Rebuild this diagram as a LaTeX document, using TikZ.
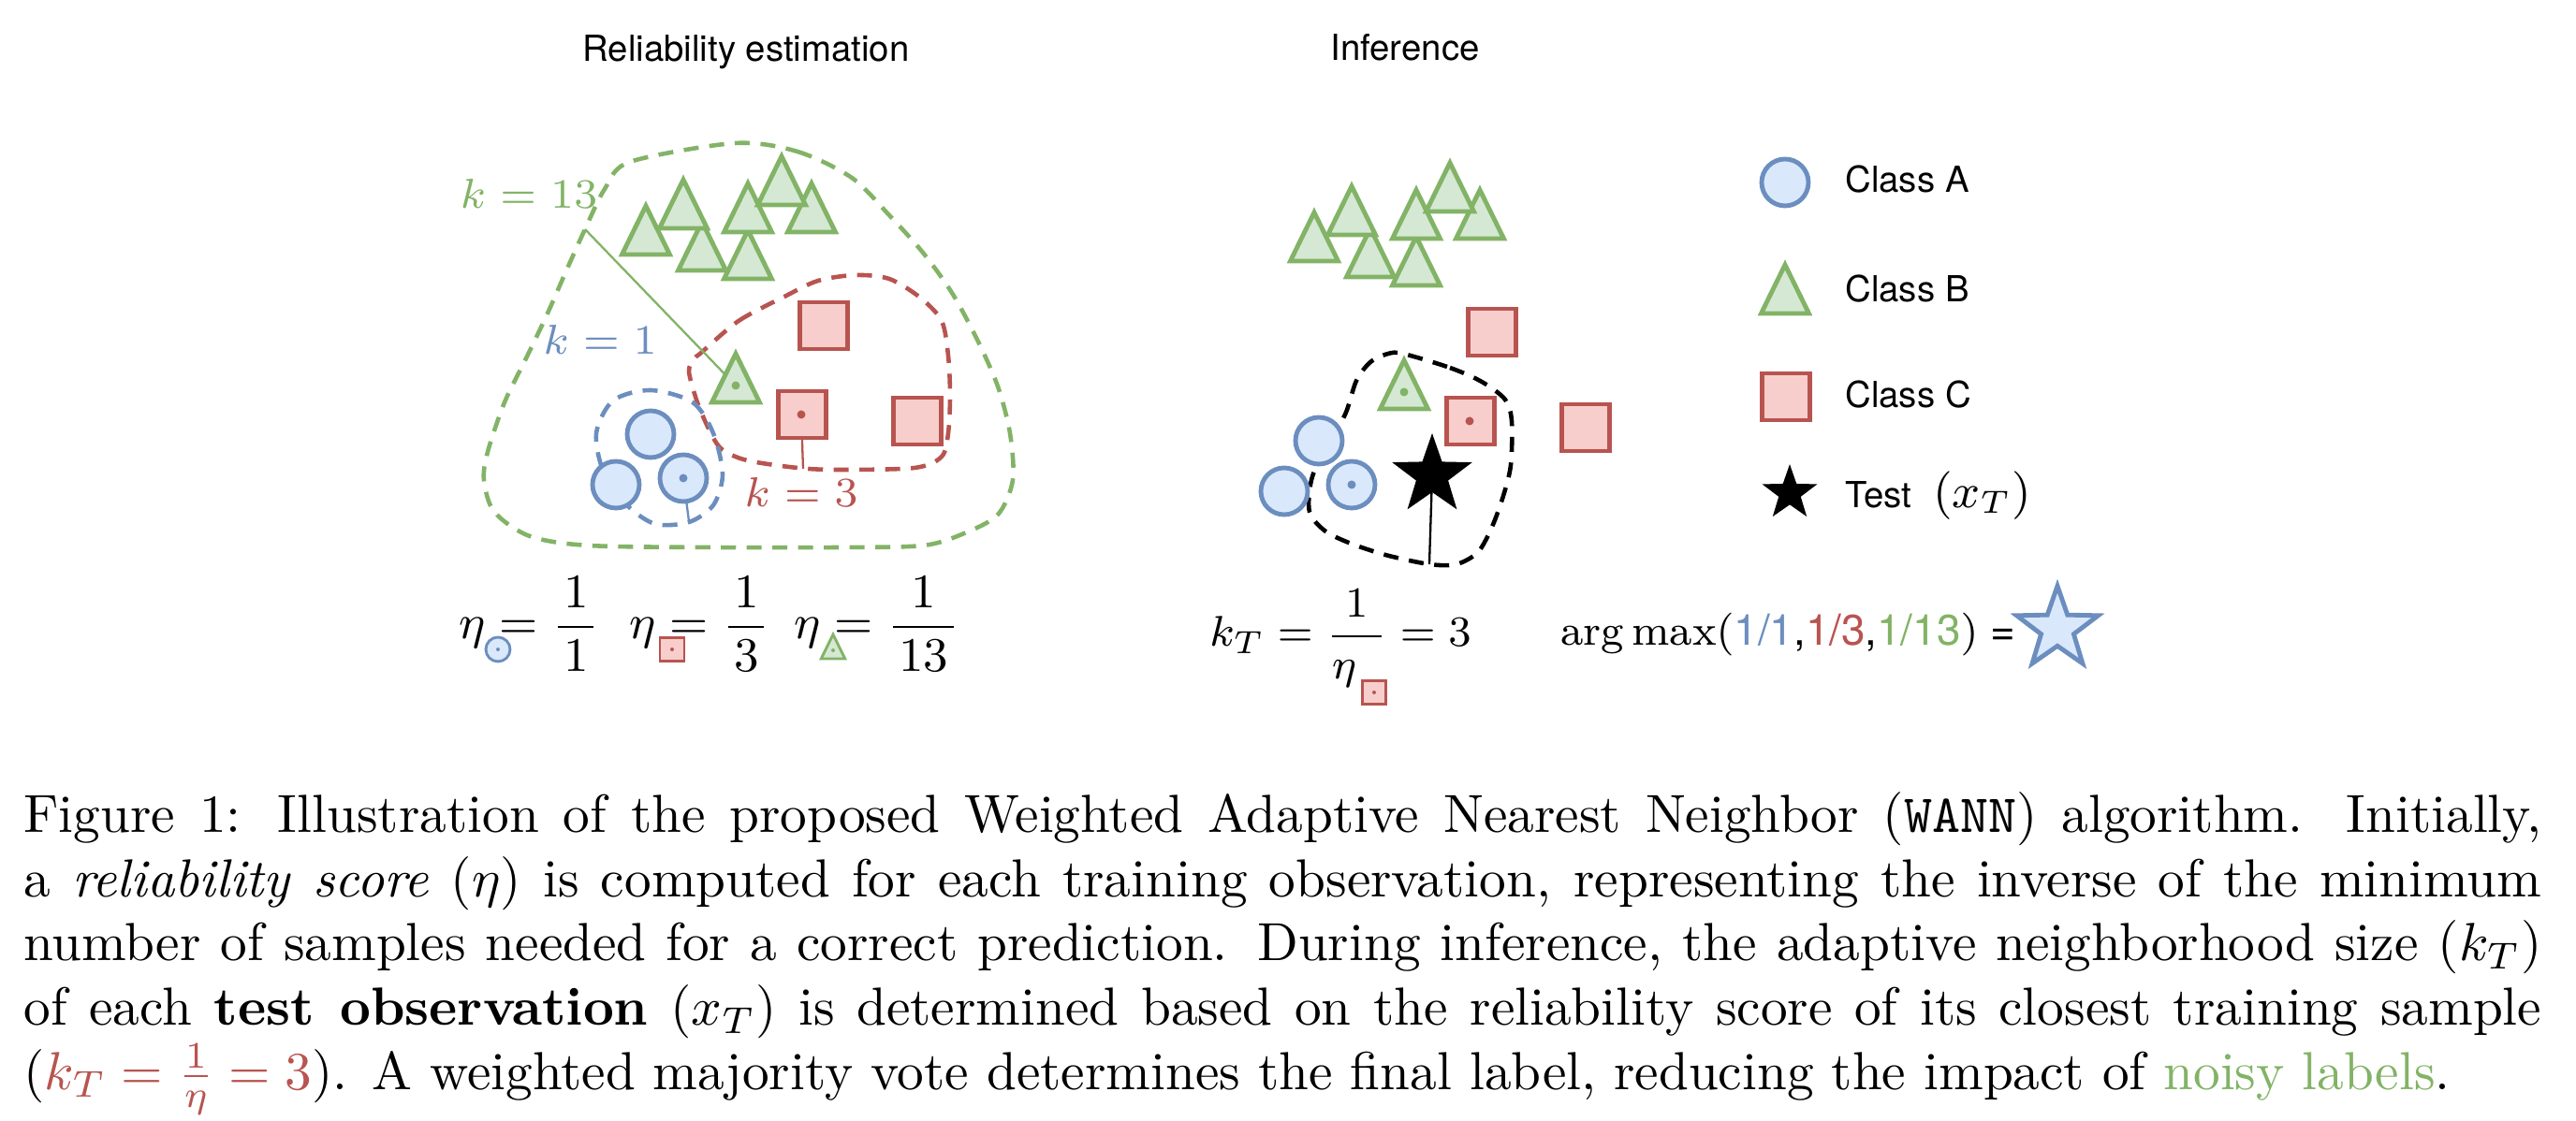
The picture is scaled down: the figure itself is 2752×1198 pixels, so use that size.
\RequirePackage{fix-cm}
\documentclass[tikz,border=0pt]{standalone}
\usepackage{amsmath}
\usepackage{fontspec}
\newfontfamily\helv{TeX Gyre Heros}
\usetikzlibrary{shapes.geometric,backgrounds}
\definecolor{blueF}{HTML}{DAE8FC}
\definecolor{blueS}{HTML}{6C8EBF}
\definecolor{greenF}{HTML}{D5E8D4}
\definecolor{greenS}{HTML}{82B366}
\definecolor{redF}{HTML}{F8CECC}
\definecolor{redS}{HTML}{B85450}
\begin{document}
\begin{tikzpicture}[
            x=0.17463pt, y=-0.17463pt, line width=0.85pt,
            clsA/.style={draw=blueS, fill=blueF},
            clsB/.style={draw=greenS, fill=greenF},
            clsC/.style={draw=redS, fill=redF},
            hood/.style={line width=0.8pt, dash pattern=on 2.8pt off 2pt},
            ptA/.pic={\draw[clsA] (0,0) circle[radius=25];},
            ptB/.pic={\draw[clsB] (0,-26) -- (25.5,26) -- (-25.5,26) -- cycle;},
            ptC/.pic={\draw[clsC] (-25.5,-25) rectangle (25.5,25);},
            testpt/.style={star, star points=5, star point ratio=2.5,
              inner sep=0pt, fill=black},
            ttl/.style={font=\helv\fontsize{6.7}{8}\selectfont, inner sep=0pt, anchor=base},
            legtxt/.style={font=\helv\fontsize{6.7}{8}\selectfont, inner sep=0pt, anchor=base west},
            klbl/.style={font=\fontsize{7.8}{9}\selectfont, inner sep=0pt, anchor=base},
            eqn/.style={font=\fontsize{9}{11}\selectfont, inner sep=0pt, anchor=base west},
            eqs/.style={font=\fontsize{8}{10}\selectfont, inner sep=0pt, anchor=base west},
            figcap/.style={anchor=north west, inner sep=0pt, text width=469.75pt,
              align=justify, font=\normalsize}
        ]
    \useasboundingbox (0,0) rectangle (2752,1198);

    \node[ttl] (relTitle) at (797,66) {Reliability estimation};
    \node[ttl] (infTitle) at (1501,65) {Inference};

    % the same training set in both panels
    \foreach \s/\dx/\dy in {l/0/0, r/714/7} {
      \foreach \x/\y in {690/246, 750/263, 730/218, 799/272, 799/222, 867/222, 835/193}
        \pic at ({\x+\dx},{\y+\dy}) {ptB};
      \pic at ({786+\dx},{404+\dy}) {ptB};
      \coordinate (tipB\s) at ({786+\dx},{412+\dy});
      \fill[greenS] (tipB\s) circle[radius=4.5];

      \foreach \x/\y in {880/348, 980/450}
        \pic at ({\x+\dx},{\y+\dy}) {ptC};
      \pic at ({857+\dx},{443+\dy}) {ptC};
      \coordinate (tipC\s) at ({856+\dx},{443+\dy});
      \fill[redS] (tipC\s) circle[radius=4.5];

      \foreach \x/\y in {695/464, 658/518}
        \pic at ({\x+\dx},{\y+\dy}) {ptA};
      \pic at ({730+\dx},{511+\dy}) {ptA};
      \coordinate (tipA\s) at ({730+\dx},{511+\dy});
      \fill[blueS] (tipA\s) circle[radius=4.5];
    }

    \node[testpt, minimum size=15.7pt] (xT) at (1530,508) {};

    \coordinate (rimB) at (625,245);
    \coordinate (rimC) at (858,501);
    \coordinate (rimA) at (736,557);
    \coordinate (rimT) at (1527,603);

    \begin{scope}[on background layer]
      \draw[hood, greenS] plot[smooth cycle] coordinates {
        (785,153) (852,162) (910,190) (950,230) (986,270) (1017,313) (1044,363)
        (1066,413) (1079,463) (1082,513) (1066,550) (1030,570) (986,583) (896,585)
        (762,585) (629,583) (566,573) (528,547) (517,513) (521,483) (539,430)
        (562,383) (584,337) (606,287) (625,245) (646,202) (673,173)};
      \draw[hood, redS] plot[smooth cycle] coordinates {
        (749,377) (789,343) (838,317) (874,300) (914,294) (950,298) (983,318)
        (1006,343) (1013,380) (1015,423) (1013,463) (1006,488) (977,500) (896,502)
        (852,500) (798,492) (771,480) (758,460) (745,430) (736,397) (742,383)};
      \draw[hood, blueS] plot[smooth cycle] coordinates {
        (695,417) (740,430) (762,463) (772,507) (762,540) (736,558) (700,560)
        (670,540) (645,505) (637,463) (655,428)};
      \draw[hood, black] plot[smooth cycle] coordinates {
        (1499,378) (1549,393) (1583,408) (1608,427) (1615,450) (1614,497) (1606,530)
        (1594,563) (1579,590) (1556,603) (1527,603) (1480,593) (1441,580) (1415,567)
        (1399,547) (1401,513) (1415,480) (1437,443) (1449,407) (1464,387) (1483,378)};

      \draw[greenS] (rimB) -- (tipBl);
      \draw[redS] (tipCl) -- (rimC);
      \draw[blueS] (tipAl) -- (rimA);
      \draw (xT.center) -- (rimT);
    \end{scope}

    \node[klbl, text=greenS] (k13) at (565,223) {$k=13$};
    \node[klbl, text=blueS] (k1) at (641,379) {$k=1$};
    \node[klbl, text=redS] (k3) at (856,542) {$k=3$};

    % legend
    \pic at (1907,195) {ptA};
    \pic at (1907,309) {ptB};
    \pic at (1908,424) {ptC};
    \node[testpt, minimum size=10.8pt] (legT) at (1912,527) {};
    \node[legtxt] (legA) at (1969,206) {Class A};
    \node[legtxt] (legB) at (1969,323) {Class B};
    \node[legtxt] (legC) at (1969,436) {Class C};
    \node[legtxt] (legX) at (1969,543) {Test\hspace{4pt}{\fontsize{9}{11}\selectfont$(x_T)$}};

    % reliability scores
    \node[eqn] (etaA) at (488,683) {$\eta = \dfrac{\mkern2mu 1\mkern2mu}{\mkern2mu 1\mkern2mu}$};
    \node[eqn] (etaC) at (670,683) {$\eta = \dfrac{\mkern2mu 1\mkern2mu}{\mkern2mu 3\mkern2mu}$};
    \node[eqn] (etaB) at (846,683) {$\eta = \dfrac{\mkern2mu 1\mkern2mu}{\mkern2mu 13\mkern2mu}$};
    \node[eqs] (kT) at (1290,691) {$k_T = \dfrac{1}{\eta_{\hspace{4.4pt}}} = 3$};
    \node[eqs] (vote) at (1665,690) {$\arg\max($\helv\textcolor{blueS}{1/1},\textcolor{redS}{1/3},\textcolor{greenS}{1/13}$)$ =};
    \node[testpt, fill=blueF, draw=blueS, minimum size=16pt] (winner) at (2198,672) {};

    \begin{scope}[line width=0.5pt]
      \pic[scale=0.52] at (532,694) {ptA};
      \pic[scale=0.51] at (718,694) {ptC};
      \pic[scale=0.5] at (890,691) {ptB};
      \pic[scale=0.49] at (1468,740) {ptC};
    \end{scope}
    \foreach \x/\y/\c in {532/694/blueS, 718/694/redS, 890/695/greenS, 1468/740/redS}
      \fill[\c] (\x,\y) circle[radius=2];

    \node[figcap] (caption) at (23,844) {\noindent Figure 1: Illustration of the proposed Weighted Adaptive Nearest Neighbor (\texttt{WANN}) algorithm.  Initially,\linebreak
      a \emph{reliability score} ($\eta$) is computed for each training observation, representing the inverse of the minimum\linebreak
      number of samples needed for a correct prediction. During inference, the adaptive neighborhood size ($k_T$)\linebreak
      of each \textbf{test observation} ($x_T$) is determined based on the reliability score of its closest training sample\linebreak
      (\textcolor{redS}{$k_T = \frac{1}{\eta} = 3$}). A weighted majority vote determines the final label, reducing the impact of \textcolor{greenS}{noisy labels}.};

    \end{tikzpicture}
\end{document}
